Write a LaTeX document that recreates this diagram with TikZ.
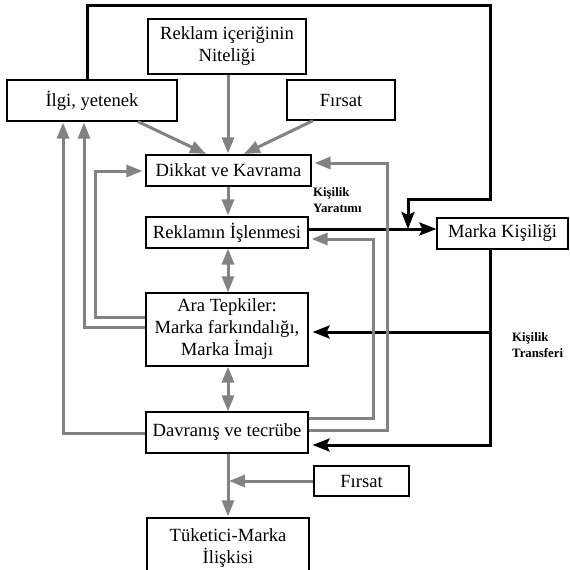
\documentclass[tikz,border=0pt]{standalone}
\usepackage{fontspec}
\setmainfont{Liberation Serif}
\usetikzlibrary{arrows.meta}
\definecolor{gryc}{RGB}{128,130,133}
\begin{document}
\begin{tikzpicture}[x=1pt,y=-1pt,
  box/.style={draw=black,line width=1.2pt,inner sep=0pt,align=center,
    font=\fontsize{18.6}{22}\selectfont},
  gry/.style={draw=gryc,line width=3pt,-{Triangle[length=16pt,width=12pt]},shorten >=1pt},
  gry2/.style={draw=gryc,line width=3pt,{Triangle[length=16pt,width=12pt]}-{Triangle[length=16pt,width=12pt]}},
  blk/.style={draw=black,line width=3pt,-{Stealth[length=17pt,width=13pt,inset=3pt]}},
  lbl/.style={font=\fontsize{12.8}{16}\selectfont\bfseries,align=left,inner sep=0pt}]
\useasboundingbox (0,0) rectangle (570,570);
\fill[white] (0,0) rectangle (570,570);
% nodes
\node[box,minimum width=158pt,minimum height=55pt] (rek) at (227,46.5) {Reklam içeriğinin\\Niteliği};
\node[box,minimum width=170pt,minimum height=41pt] (ilgi) at (92,100.5) {İlgi, yetenek};
\node[box,minimum width=108pt,minimum height=40pt] (fir) at (341,100) {Fırsat};
\node[box,minimum width=165pt,minimum height=31pt] (dik) at (228.5,170.5) {Dikkat ve Kavrama};
\node[box,minimum width=162pt,minimum height=31pt] (isl) at (227,232.5) {Reklamın İşlenmesi};
\node[box,minimum width=131pt,minimum height=31pt] (mk) at (502.5,233.5) {Marka Kişiliği};
\node[box,minimum width=162pt,minimum height=73pt] (ara) at (227,329.5) {Ara Tepkiler:\\Marka farkındalığı,\\Marka İmajı};
\node[box,minimum width=162pt,minimum height=41pt] (dav) at (227,432.5) {Davranış ve tecrübe};
\node[box,minimum width=95pt,minimum height=30pt] (fir2) at (361.5,481) {Fırsat};
\node[box,minimum width=162pt,minimum height=60pt] (tuk) at (228,548) {Tüketici-Marka\\İlişkisi};
% labels
\node[lbl,anchor=west] (ly) at (313,200) {Kişilik\\Yaratımı};
\node[lbl,anchor=west] (lt) at (512,345) {Kişilik\\Transferi};
% black connectors
\coordinate (j) at (408,229);
\draw[blk] (87,0 |- ilgi.north) |- (490,5) |- (408,199) -- (j);
\draw[blk] (isl.east |- 0,229) -- (mk.west |- 0,229);
\draw[blk,shorten >=4pt] (490,0 |- mk.south) |- (dav.east |- 0,445);
\draw[blk,shorten >=4pt] (490,332) -- (ara.east |- 0,332);
% gray connectors
\draw[gry] (138,0 |- ilgi.south) -- (207,0 |- dik.north);
\draw[gry] (228,0 |- rek.south) -- (228,0 |- dik.north);
\draw[gry] (313,0 |- fir.south) -- (243,0 |- dik.north);
\draw[gry] (228,0 |- dik.south) -- (228,0 |- isl.north);
\draw[gry2] (228,0 |- isl.south) -- (228,0 |- ara.north);
\draw[gry2] (228,0 |- ara.south) -- (228,0 |- dav.north);
\draw[gry] (228,0 |- dav.south) -- (228,0 |- tuk.north);
\draw[gry] (fir2.west) -- (228,481);
\draw[gry,shorten >=3pt] (ara.west |- 0,317) -| (95,171) -- (dik.west |- 0,171);
\draw[gry] (ara.west |- 0,327) -| (84,0 |- ilgi.south);
\draw[gry] (dav.west |- 0,433) -| (63,0 |- ilgi.south);
\draw[gry,shorten >=3pt] (dav.east |- 0,418) -| (373,239) -- (isl.east |- 0,239);
\draw[gry,shorten >=3pt] (dav.east |- 0,430) -| (387,163) -- (dik.east |- 0,163);
\end{tikzpicture}
\end{document}
